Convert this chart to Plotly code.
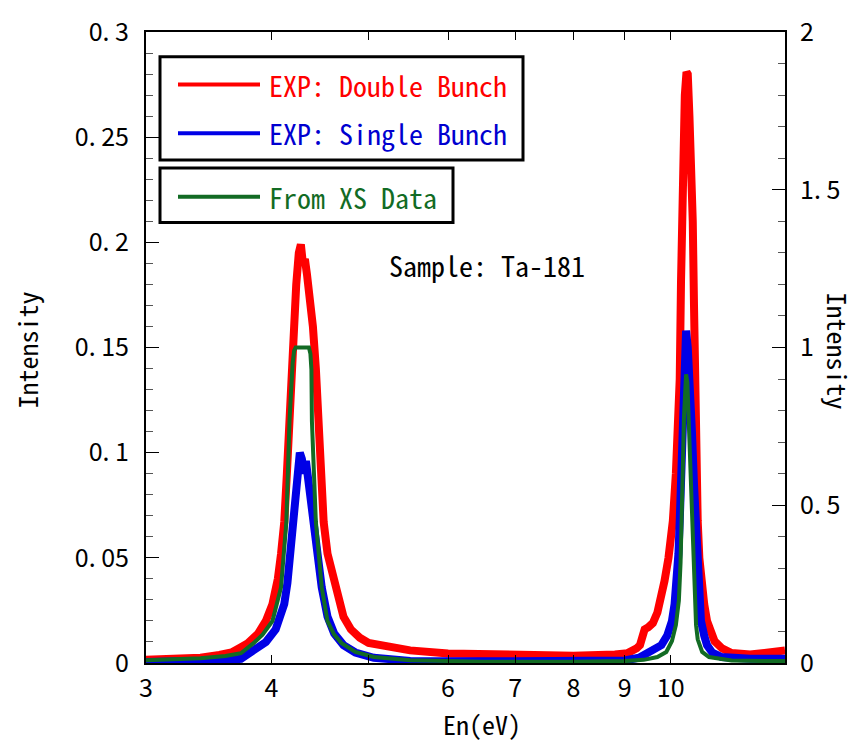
import numpy as np
import plotly.graph_objects as go

# ---------------- data ----------------
red_E = [3.0, 3.2, 3.4, 3.55, 3.65, 3.73, 3.79, 3.88, 3.95, 4.01, 4.06, 4.09, 4.12, 4.145,
         4.165, 4.19, 4.21, 4.235, 4.26, 4.28, 4.30, 4.32, 4.34, 4.37, 4.40, 4.43, 4.46,
         4.485, 4.51, 4.55, 4.60, 4.64, 4.72, 4.80, 4.90, 5.0, 5.23, 5.5, 6.0, 7.0, 8.0,
         8.8, 9.06, 9.25, 9.32, 9.38, 9.42, 9.5, 9.6, 9.7, 9.78, 9.86, 9.95, 10.05, 10.12,
         10.17, 10.21, 10.24, 10.28, 10.33, 10.37, 10.40, 10.44, 10.49, 10.52, 10.55, 10.57,
         10.61, 10.64, 10.68, 10.72, 10.80, 10.87, 10.95, 11.06, 11.25, 11.5, 12.0, 12.44, 13.0]
red_I = [0.0015, 0.002, 0.0025, 0.0038, 0.005, 0.0075, 0.0094, 0.014, 0.020, 0.028, 0.040,
         0.052, 0.067, 0.09, 0.115, 0.14, 0.162, 0.18, 0.195, 0.199, 0.19, 0.192, 0.185,
         0.175, 0.160, 0.14, 0.115, 0.09, 0.067, 0.052, 0.042, 0.036, 0.022, 0.016, 0.012,
         0.0095, 0.0075, 0.006, 0.0045, 0.0035, 0.0035, 0.004, 0.0047, 0.0070, 0.0085, 0.013,
         0.016, 0.017, 0.019, 0.024, 0.030, 0.039, 0.05, 0.0675, 0.09, 0.11, 0.135, 0.181,
         0.237, 0.27, 0.281, 0.28, 0.26, 0.237, 0.21, 0.17, 0.13, 0.09, 0.0675, 0.05, 0.039,
         0.028, 0.020, 0.015, 0.0104, 0.007, 0.0047, 0.004, 0.0045, 0.006]

blue_E = [3.0, 3.4, 3.6, 3.73, 3.84, 3.95, 4.04, 4.09, 4.12, 4.15, 4.18, 4.21, 4.24, 4.27,
          4.29, 4.31, 4.33, 4.36, 4.38, 4.40, 4.44, 4.49, 4.55, 4.62, 4.72, 4.85, 5.06, 5.5,
          7.0, 9.0, 9.3, 9.49, 9.65, 9.79, 9.92, 10.03, 10.09, 10.14, 10.18, 10.21, 10.25,
          10.28, 10.33, 10.36, 10.40, 10.45, 10.50, 10.55, 10.59, 10.64, 10.68, 10.72, 10.80,
          10.87, 11.0, 11.24, 12.0, 13.0]
blue_I = [0.0005, 0.0008, 0.0012, 0.002, 0.006, 0.010, 0.016, 0.022, 0.028, 0.038, 0.052,
          0.067, 0.085, 0.100, 0.097, 0.090, 0.096, 0.085, 0.075, 0.067, 0.05, 0.036, 0.022,
          0.014, 0.0085, 0.005, 0.0025, 0.001, 0.0008, 0.0012, 0.0025, 0.0047, 0.0065, 0.0085,
          0.013, 0.020, 0.028, 0.039, 0.052, 0.0675, 0.095, 0.124, 0.150, 0.158, 0.150, 0.135,
          0.110, 0.085, 0.0675, 0.039, 0.028, 0.020, 0.013, 0.0085, 0.005, 0.0028, 0.002, 0.002]

green_E = [3.0, 3.4, 3.6, 3.73, 3.84, 3.92, 4.01, 4.09, 4.14, 4.17, 4.20, 4.215, 4.23, 4.36,
           4.375, 4.385, 4.39, 4.43, 4.49, 4.55, 4.62, 4.70, 4.85, 5.06, 5.5, 6.5, 8.0, 9.0,
           9.4, 9.70, 9.9, 10.03, 10.12, 10.19, 10.23, 10.26, 10.28, 10.31, 10.34, 10.36,
           10.39, 10.42, 10.45, 10.50, 10.53, 10.56, 10.60, 10.64, 10.75, 10.92, 11.5, 12.5, 13.0]
green_I = [0.009, 0.015, 0.022, 0.031, 0.063, 0.09, 0.133, 0.24, 0.447, 0.767, 0.95, 0.99,
           1.0, 1.0, 0.98, 0.93, 0.767, 0.447, 0.24, 0.133, 0.09, 0.063, 0.035, 0.019, 0.009,
           0.004, 0.004, 0.006, 0.01, 0.019, 0.035, 0.07, 0.12, 0.198, 0.32, 0.45, 0.60, 0.78,
           0.89, 0.915, 0.89, 0.78, 0.62, 0.45, 0.32, 0.198, 0.12, 0.075, 0.035, 0.019, 0.008,
           0.006, 0.006]

x_ticks = [3, 4, 5, 6, 7, 8, 9, 10]
y_ticks = [0, 0.05, 0.1, 0.15, 0.2, 0.25, 0.3]
y_ticktext = ["0", "0. 05", "0. 1", "0. 15", "0. 2", "0. 25", "0. 3"]
y2_ticks = [0, 0.5, 1, 1.5, 2]
y2_ticktext = ["0", "0. 5", "1", "1. 5", "2"]

names = ["EXP: Double Bunch", "EXP: Single Bunch", "From XS Data"]
RED, BLUE, GREEN = "#ff0000", "#0000e6", "#126b24"
TXT_BLUE, TXT_GREEN = "#0000d0", "#126b24"

MONO = "Noto Sans Mono CJK JP, Liberation Mono, monospace"
TICKF = "Noto Sans CJK JP, sans-serif"

fig = go.Figure()
fig.add_trace(go.Scatter(x=red_E, y=red_I, mode="lines", line=dict(color=RED, width=8),
                         name=names[0], showlegend=False))
fig.add_trace(go.Scatter(x=blue_E, y=blue_I, mode="lines", line=dict(color=BLUE, width=8),
                         name=names[1], showlegend=False))
fig.add_trace(go.Scatter(x=green_E, y=green_I, mode="lines", line=dict(color=GREEN, width=4),
                         name=names[2], showlegend=False, yaxis="y2"))

axis_common = dict(showline=True, linecolor="black", linewidth=2, showgrid=False,
                   zeroline=False, ticks="inside", tickcolor="black")

fig.update_layout(
    width=858, height=741,
    margin=dict(l=146, r=73, t=27, b=78),
    paper_bgcolor="white", plot_bgcolor="white",
    xaxis=dict(type="log", range=[np.log10(3), np.log10(13)], tickvals=x_ticks,
               ticktext=[str(v) for v in x_ticks], ticklen=8, mirror="ticks",
               tickfont=dict(family=TICKF, size=25, color="black"), ticklabelstandoff=2,
               **axis_common),
    yaxis=dict(range=[0, 0.3], tickvals=y_ticks, ticktext=y_ticktext, ticklen=13,
               minor=dict(dtick=0.01, ticklen=7, ticks="inside", tickcolor="#555"),
               tickfont=dict(family=TICKF, size=25, color="black"), ticklabelstandoff=10,
               **axis_common),
    yaxis2=dict(range=[0, 2], overlaying="y", side="right", tickvals=y2_ticks,
                ticktext=y2_ticktext, ticklen=13,
                minor=dict(dtick=0.1, ticklen=7, ticks="inside", tickcolor="#555"),
                tickfont=dict(family=TICKF, size=25, color="black"), ticklabelstandoff=8,
                **axis_common),
    showlegend=False,
)

def px(x):
    return (x - 146) / 639

def py(y):
    return (663 - y) / 636

shapes = [
    dict(type="rect", xref="paper", yref="paper", x0=px(160), x1=px(523), y0=py(156), y1=py(52),
         line=dict(color="black", width=3), fillcolor="white"),
    dict(type="rect", xref="paper", yref="paper", x0=px(160), x1=px(453), y0=py(219), y1=py(164),
         line=dict(color="black", width=3), fillcolor="white"),
]
for yy, col in [(80, RED), (129, BLUE), (193, GREEN)]:
    shapes.append(dict(type="line", xref="paper", yref="paper", x0=px(178), x1=px(260),
                       y0=py(yy), y1=py(yy), line=dict(color=col, width=4)))
fig.update_layout(shapes=shapes)

ann = []
for yy, txt, col in [(80, names[0], RED), (129, names[1], TXT_BLUE), (193, names[2], TXT_GREEN)]:
    ann.append(dict(xref="paper", yref="paper", x=px(267), y=py(yy), text=txt, showarrow=False,
                    xanchor="left", yanchor="middle", font=dict(family=MONO, size=28, color=col)))
ann.append(dict(xref="paper", yref="paper", x=px(487), y=py(262), text="Sample: Ta-181",
                showarrow=False, xanchor="center", yanchor="middle",
                font=dict(family=MONO, size=28, color="black")))
ann.append(dict(xref="paper", yref="paper", x=px(482), y=py(724), text="En(eV)",
                showarrow=False, xanchor="center", yanchor="middle",
                font=dict(family=MONO, size=26, color="black")))
ann.append(dict(xref="paper", yref="paper", x=px(26), y=py(348), text="Intensity",
                showarrow=False, xanchor="center", yanchor="middle", textangle=-90,
                font=dict(family=MONO, size=26, color="black")))
ann.append(dict(xref="paper", yref="paper", x=px(839), y=py(348), text="Intensity",
                showarrow=False, xanchor="center", yanchor="middle", textangle=90,
                font=dict(family=MONO, size=26, color="black")))
fig.update_layout(annotations=ann)

fig.write_html("out.html")
